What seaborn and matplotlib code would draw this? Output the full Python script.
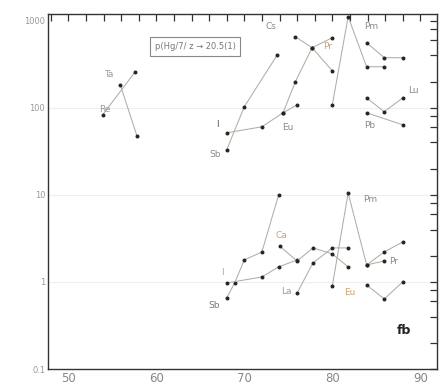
import matplotlib
matplotlib.use("Agg")
import matplotlib.pyplot as plt
import matplotlib.ticker as mticker
import seaborn as sns

sns.set_theme(style="white")
plt.rcParams["font.family"] = ["DejaVu Sans"]

# ---- series: (mass number, ratio) ----
ta_x, ta_y = [55.9, 57.8], [184, 47.6]
re_x, re_y = [53.9, 57.6], [83.0, 259]
sb_up_x, sb_up_y = [68.0, 70.0, 73.75], [32.9, 103, 406]
i_up_x, i_up_y = [68.0, 72.0, 74.4, 76.0], [51.6, 60.5, 87.6, 108]
pr_up_x, pr_up_y = [74.4, 75.8, 77.7, 80.0], [87.6, 199, 489, 638]
cs_up_x, cs_up_y = [75.8, 77.7, 80.0], [655, 489, 266]
pm_up_x, pm_up_y = [80.0, 81.8, 83.9, 85.9], [108, 1112, 296, 296]
sm_up_x, sm_up_y = [83.9, 85.9, 88.0], [559, 376, 376]
lu_up_x, lu_up_y = [83.9, 85.9, 88.0], [130, 90, 130]
pb_up_x, pb_up_y = [83.9, 88.0], [87.6, 63.8]

sb_lo_x, sb_lo_y = [68.0, 68.9, 70.0, 72.0, 73.9], [0.655, 0.974, 1.79, 2.21, 10.0]
i_lo_x, i_lo_y = [68.0, 72.0, 73.9, 76.0], [0.974, 1.14, 1.49, 1.79]
ca_lo_x, ca_lo_y = [74.0, 76.0, 77.8, 80.0, 81.8], [2.59, 1.74, 2.46, 2.10, 1.49]
la_lo_x, la_lo_y = [76.0, 77.8, 80.0, 81.8], [0.747, 1.65, 2.46, 2.46]
pm_lo_x, pm_lo_y = [80.0, 81.8, 83.9, 85.9], [0.90, 10.5, 1.57, 1.74]
eu_lo_x, eu_lo_y = [83.9, 85.9, 88.0], [0.924, 0.638, 1.0]
pr_lo_x, pr_lo_y = [83.9, 85.9, 88.0], [1.57, 2.21, 2.88]

series = [
    (ta_x, ta_y), (re_x, re_y), (sb_up_x, sb_up_y), (i_up_x, i_up_y),
    (pr_up_x, pr_up_y), (cs_up_x, cs_up_y), (pm_up_x, pm_up_y),
    (sm_up_x, sm_up_y), (lu_up_x, lu_up_y), (pb_up_x, pb_up_y),
    (sb_lo_x, sb_lo_y), (i_lo_x, i_lo_y), (ca_lo_x, ca_lo_y),
    (la_lo_x, la_lo_y), (pm_lo_x, pm_lo_y), (eu_lo_x, eu_lo_y),
    (pr_lo_x, pr_lo_y),
]

# element labels: x, y, text, colour
labels = [
    (54.6, 240, "Ta", "#9a9a9a"), (54.2, 95, "Re", "#9a9a9a"),
    (66.7, 29, "Sb", "#8a8a8a"), (67.0, 64, "I", "#555555"),
    (73.0, 850, "Cs", "#8a8a8a"), (79.5, 500, "Pr", "#c8a27a"),
    (84.4, 850, "Pm", "#8a8a8a"), (75.0, 59, "Eu", "#8a8a8a"),
    (89.2, 160, "Lu", "#8a8a8a"), (84.2, 62, "Pb", "#8a8a8a"),
    (66.6, 0.54, "Sb", "#777777"), (67.5, 1.30, "I", "#c8a27a"),
    (74.2, 3.38, "Ca", "#d0a070"), (74.8, 0.77, "La", "#9a9a9a"),
    (84.3, 8.8, "Pm", "#8a8a8a"), (82.0, 0.75, "Eu", "#d0a070"),
    (87.0, 1.70, "Pr", "#8a8a8a"),
]

y_ticks = [0.1, 1, 10, 100, 1000]
y_tick_labels = ["0.1", "1", "10", "100", "1000"]
x_ticks = [50, 60, 70, 80, 90]

fig = plt.figure(figsize=(4.41, 3.84), dpi=100)
ax = fig.add_axes([0.109, 0.039, 0.882, 0.925])
ax.set_yscale("log")
ax.set_xlim(47.7, 91.9)
ax.set_ylim(0.1, 1200)

for ref in (1, 10, 100):
    ax.axhline(ref, color="#eeeeee", lw=0.8, zorder=0)

for xs, ys in series:
    sns.lineplot(x=xs, y=ys, ax=ax, sort=False, estimator=None,
                 color="#b4aca4", lw=0.75, marker="o", markersize=2.1,
                 markerfacecolor="#222222", markeredgecolor="#222222")

for x, y, t, c in labels:
    ax.text(x, y, t, fontsize=6.5, color=c, ha="center", va="center")

ax.text(64.4, 500, "p(Hg/7/ z \u2192 20.5(1)", fontsize=6, color="#777777",
        ha="center", va="center",
        bbox=dict(boxstyle="square,pad=0.6", fc="white", ec="#888888", lw=0.8))
ax.text(88.1, 0.28, "fb", fontsize=9, fontweight="bold", color="#222222",
        ha="center", va="center")

ax.set_xticks(x_ticks)
ax.set_xticklabels([str(v) for v in x_ticks], fontsize=8.5, color="#888888")
ax.xaxis.set_minor_locator(mticker.MultipleLocator(2))
ax.set_yticks(y_ticks)
ax.set_yticklabels(y_tick_labels, fontsize=6, color="#999999")
ax.yaxis.set_minor_locator(mticker.LogLocator(base=10, subs=[2, 4, 6, 8]))
ax.yaxis.set_minor_formatter(mticker.NullFormatter())
ax.tick_params(which="both", direction="in", top=True, right=True,
               length=5, width=0.9, color="#333333", pad=2)
for s in ax.spines.values():
    s.set_color("#333333")
    s.set_linewidth(1.0)
ax.set_xlabel("")
ax.set_ylabel("")

fig.savefig("out.png", dpi=100)
